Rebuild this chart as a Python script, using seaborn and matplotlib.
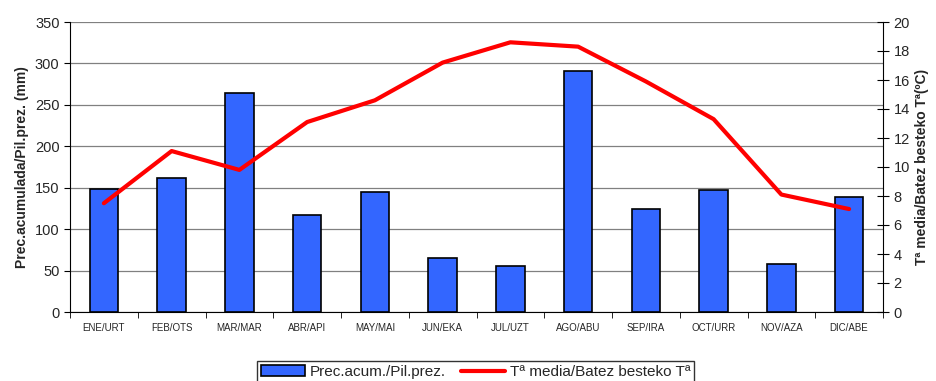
import matplotlib
matplotlib.use("Agg")
import matplotlib.pyplot as plt
import seaborn as sns
import pandas as pd
from matplotlib.patches import Patch
from matplotlib.lines import Line2D

months = ["ENE/URT", "FEB/OTS", "MAR/MAR", "ABR/API", "MAY/MAI", "JUN/EKA",
          "JUL/UZT", "AGO/ABU", "SEP/IRA", "OCT/URR", "NOV/AZA", "DIC/ABE"]
precip = [149, 162, 264, 117, 145, 65, 55, 291, 124, 147, 58, 139]
temp = [7.5, 11.1, 9.8, 13.1, 14.6, 17.2, 18.6, 18.3, 15.9, 13.3, 8.1, 7.1]

sns.set_style("white")
plt.rcParams['font.family'] = ['Liberation Sans', 'DejaVu Sans']

df = pd.DataFrame({"month": months, "precip": precip, "temp": temp})

fig = plt.figure(figsize=(9.36, 3.81), dpi=100)
ax = fig.add_axes([70/936, 1-312/381, (883-70)/936, 290/381])

bar_color = "#3366FF"
sns.barplot(data=df, x="month", y="precip", ax=ax, color=bar_color,
            edgecolor="black", linewidth=1.2, width=0.42, saturation=1, zorder=3)
ax.set_ylim(0, 350)
ax.set_yticks(range(0, 351, 50))
ax.set_xlim(-0.5, 11.5)
ax.yaxis.grid(True, color="#808080", linewidth=0.9, zorder=0)
ax.set_axisbelow(True)
ax.set_xlabel("")
ax.set_ylabel("Prec.acumulada/Pil.prez. (mm)", fontsize=10, fontweight="bold")
ax.tick_params(axis="y", labelsize=10.5, length=4, direction="out", left=True, color="black")
ax.set_xticks(range(12))
ax.set_xticklabels(months, fontsize=7)
ax.tick_params(axis="x", which="major", length=0, pad=8)
ax.set_xticks([i - 0.5 for i in range(13)], minor=True)
ax.tick_params(axis="x", which="minor", bottom=True, length=4, direction="out", color="black")
ax.spines["top"].set_visible(False)
ax.spines["left"].set_color("black")
ax.spines["bottom"].set_color("black")
ax.spines["right"].set_visible(False)

ax2 = ax.twinx()
sns.lineplot(data=df, x="month", y="temp", ax=ax2, color="#FF0000", linewidth=3, sort=False, zorder=4)
ax2.set_ylim(0, 20)
ax2.set_yticks(range(0, 21, 2))
ax2.set_ylabel("Tª media/Batez besteko Tª(ºC)", fontsize=10, fontweight="bold")
ax2.tick_params(axis="y", labelsize=10.5, length=8, direction="inout", right=True, color="black")
ax2.spines["top"].set_visible(False)
ax2.spines["left"].set_visible(False)
ax2.spines["bottom"].set_visible(False)
ax2.spines["right"].set_color("black")
ax2.set_xlim(-0.5, 11.5)

handles = [Patch(facecolor=bar_color, edgecolor="black", linewidth=1.2),
           Line2D([0], [0], color="#FF0000", linewidth=3)]
labels = ["Prec.acum./Pil.prez.", "Tª media/Batez besteko Tª"]
leg = fig.legend(handles, labels, loc="lower center", bbox_to_anchor=(0.508, -0.005),
                 ncol=2, fontsize=11, frameon=True, fancybox=False, edgecolor="black",
                 handlelength=2.9, handleheight=0.7, borderpad=0.25, columnspacing=1.0,
                 handletextpad=0.3, borderaxespad=0)
leg.get_frame().set_linewidth(1)

fig.savefig("out.png", dpi=100)
